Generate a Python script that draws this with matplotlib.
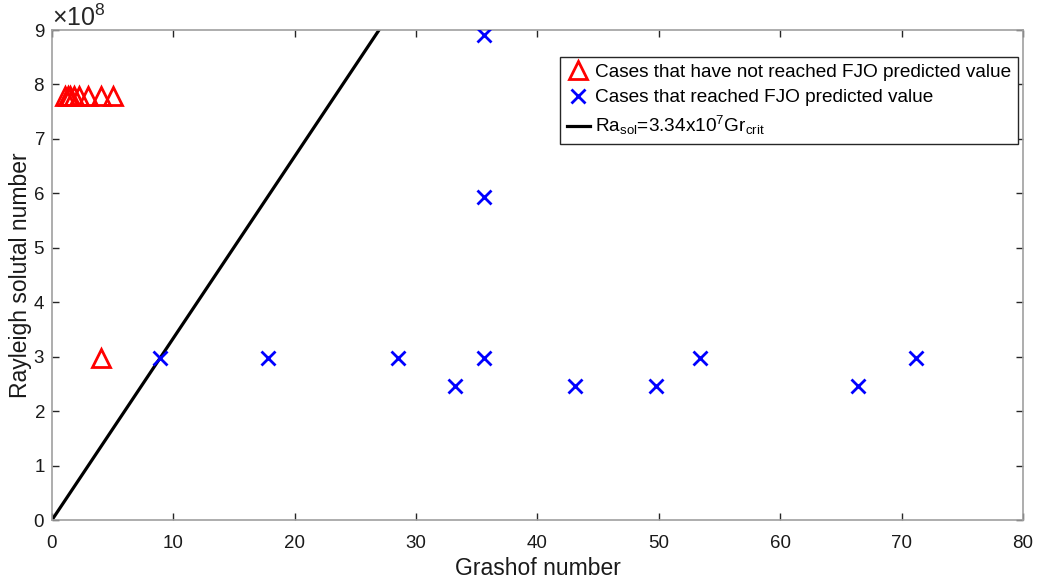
import matplotlib
matplotlib.use("Agg")
import matplotlib.pyplot as plt
import numpy as np
from matplotlib.ticker import ScalarFormatter

plt.rcParams['font.family'] = ['Liberation Sans', 'DejaVu Sans']
plt.rcParams['mathtext.default'] = 'regular'

# Cases that have not reached FJO predicted value
gr_not = [1.1, 1.3, 1.5, 1.8, 2.2, 3.0, 4.0, 5.0, 4.0]
ra_not = [7.78e8, 7.78e8, 7.78e8, 7.78e8, 7.78e8, 7.78e8, 7.78e8, 7.78e8, 2.97e8]

# Cases that reached FJO predicted value
gr_yes = [8.9, 17.8, 28.5, 33.2, 35.6, 35.6, 35.6, 43.1, 49.8, 53.4, 66.4, 71.2]
ra_yes = [2.97e8, 2.97e8, 2.97e8, 2.47e8, 2.97e8, 5.93e8, 8.9e8, 2.47e8, 2.47e8, 2.97e8, 2.47e8, 2.97e8]

slope = 3.34e7
gr_line = [0, 30]

fig = plt.figure(figsize=(10.39, 5.86), dpi=100)
ax = fig.add_axes([0.050, 0.1126, 0.9346, 0.8362])

axcol = '#262626'
spcol = '#a0a0a0'
ax.plot(gr_line, [slope * g for g in gr_line], color='black', lw=2.3,
        label=r'Ra$_{sol}$=3.34x10$^7$Gr$_{crit}$', zorder=2)
ax.plot(gr_not, ra_not, linestyle='none', marker='^', markersize=13.5,
        markerfacecolor='none', markeredgecolor='red', markeredgewidth=2,
        label='Cases that have not reached FJO predicted value', zorder=3)
ax.plot(gr_yes, ra_yes, linestyle='none', marker='x', markersize=9.5,
        color='blue', markeredgewidth=2,
        label='Cases that reached FJO predicted value', zorder=3)

ax.set_xlim(0, 80)
ax.set_ylim(0, 9e8)
ax.set_xticks(np.arange(0, 81, 10))
ax.set_yticks(np.arange(0, 9.1e8, 1e8))
fmt = ScalarFormatter(useMathText=True)
fmt.set_powerlimits((0, 0))
ax.yaxis.set_major_formatter(fmt)
ax.yaxis.get_offset_text().set_fontsize(18)
ax.yaxis.get_offset_text().set_color('#262626')

ax.tick_params(direction='in', length=5, width=1, labelsize=13.5, colors=axcol,
               top=True, right=True)
ax.tick_params(axis='x', pad=10.5)
ax.tick_params(axis='y', pad=5)
for t in ax.get_xticklabels() + ax.get_yticklabels():
    t.set_color('#1a1a1a')
for s in ax.spines.values():
    s.set_color(spcol)
    s.set_linewidth(1.2)

ax.set_xlabel('Grashof number', fontsize=16.5, labelpad=4, color='#1a1a1a')
ax.set_ylabel('Rayleigh solutal number', fontsize=16.5, labelpad=1, color='#1a1a1a')

handles, labels = ax.get_legend_handles_labels()
order = [1, 2, 0]
leg = ax.legend([handles[i] for i in order], [labels[i] for i in order],
                loc='upper right', bbox_to_anchor=(0.995, 0.945), fontsize=13.7,
                frameon=True, fancybox=False, edgecolor=axcol, framealpha=1,
                handlelength=1.2, handletextpad=0.3, borderpad=0.35,
                labelspacing=0.42, borderaxespad=0)
leg.get_frame().set_linewidth(1)

fig.savefig('out.png', dpi=100)
